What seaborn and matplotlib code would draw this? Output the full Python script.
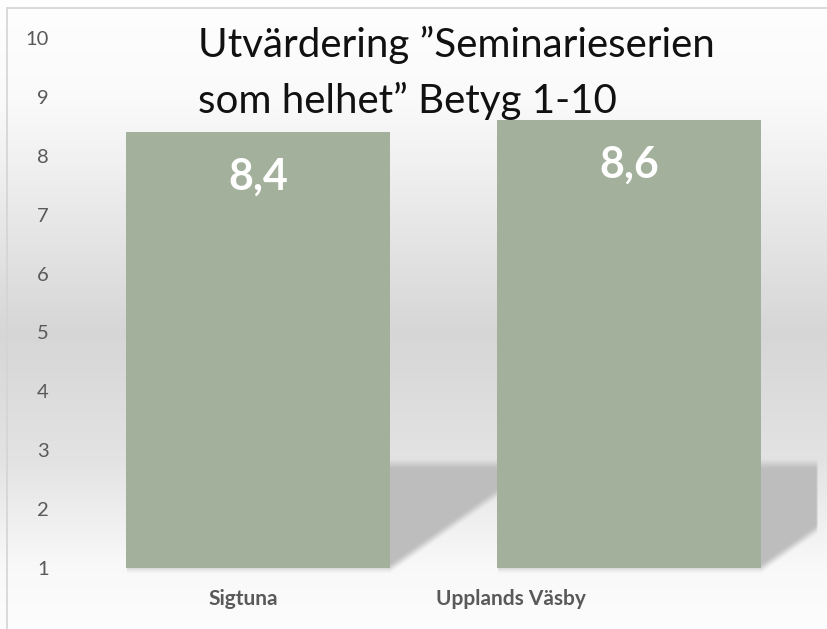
import numpy as np
import pandas as pd
import seaborn as sns
import matplotlib.pyplot as plt
from matplotlib.lines import Line2D

# data
kommuner = ['Sigtuna', 'Upplands Väsby']
betyg = [8.4, 8.6]
betyg_text = ['8,4', '8,6']
y_ticks = list(range(1, 11))
titel = 'Utvärdering ”Seminarieserien\nsom helhet” Betyg 1-10'

sns.set_style('white')
plt.rcParams['font.family'] = ['Lato', 'DejaVu Sans']

W, H = 828, 629
fig = plt.figure(figsize=(W / 100, H / 100), dpi=100)
fig.patch.set_facecolor('white')
ax = fig.add_axes([72.5 / W, 61 / H, 742 / W, 530 / H])
ax.set_facecolor('none')
ax.set_zorder(2)

df = pd.DataFrame({'kommun': kommuner, 'betyg': betyg})
sns.barplot(data=df, x='kommun', y='betyg', color='#a3b09b', saturation=1,
            width=0.71, linewidth=0, ax=ax)

ax.set_ylim(1, 10)
ax.set_xlim(-0.5, 1.5)
ax.set_yticks(y_ticks)
ax.set_xlabel('')
ax.set_ylabel('')
ax.tick_params(axis='y', length=0, pad=17, labelsize=14.5, labelcolor='#595959')
ax.set_xticks([])
sns.despine(ax=ax, left=True, bottom=True)

# kategori-etiketter (förskjutna som i originalet)
forskjutning = [-15, -118]
for i, (namn, dx) in enumerate(zip(kommuner, forskjutning)):
    ax.annotate(namn, xy=(i, 0), xycoords=ax.get_xaxis_transform(),
                xytext=(dx * 0.72, -22), textcoords='offset points',
                ha='center', va='center', fontsize=15, fontweight='bold',
                color='#595959')

# värden i staplarna
for i, (v, txt) in enumerate(zip(betyg, betyg_text)):
    ax.annotate(txt, xy=(i, v), xytext=(0, -32), textcoords='offset points',
                ha='center', va='center', color='white', fontsize=31,
                fontweight='bold')

fig.text(198 / W, 1 - 26 / H, titel, ha='left', va='top', fontsize=29,
         linespacing=1.55, color='#111111')

# ram
fig.add_artist(Line2D([7 / W, 7 / W], [0, 1 - 8 / H], color='#d4d4d4', lw=1.2))
fig.add_artist(Line2D([7 / W, 1], [1 - 8 / H, 1 - 8 / H], color='#d4d4d4', lw=1.2))

# bakgrund: gradient + skuggor bakom staplarna
fig.canvas.draw()
yy, xx = np.mgrid[0:H, 0:W].astype(float)
bg = np.interp(yy, [0, 100, 333, 460, 565, 629], [0.997, 0.98, 0.84, 0.89, 0.975, 0.99])


def smooth(t):
    t = np.clip(t, 0, 1)
    return t * t * (3 - 2 * t)


ax_bb = ax.get_window_extent()
golv = H - ax.transAxes.transform((0, 0.198))[1]
alfa = np.zeros_like(bg)
utstick = [150, 56]
for p, ext in zip(ax.patches, utstick):
    bb = p.get_window_extent()
    xL, xR, ybot = bb.x0, bb.x1, H - max(bb.y0, ax_bb.y0)
    ydiag = np.where(xx <= xR, ybot, ybot - 0.70 * (xx - xR))
    a = smooth((yy - (golv - 6)) / 12) * smooth((ydiag - yy) / 12 + 0.5)
    a *= smooth((xR + ext - xx) / 3 + 0.5) * (xx >= xL)
    alfa = np.maximum(alfa, a)
img = bg * (1 - alfa) + 0.745 * alfa
rgb = np.dstack([img, img, img])
fig.figimage(rgb, xo=0, yo=0, origin='upper', zorder=0)

fig.savefig('out.png', dpi=100)
